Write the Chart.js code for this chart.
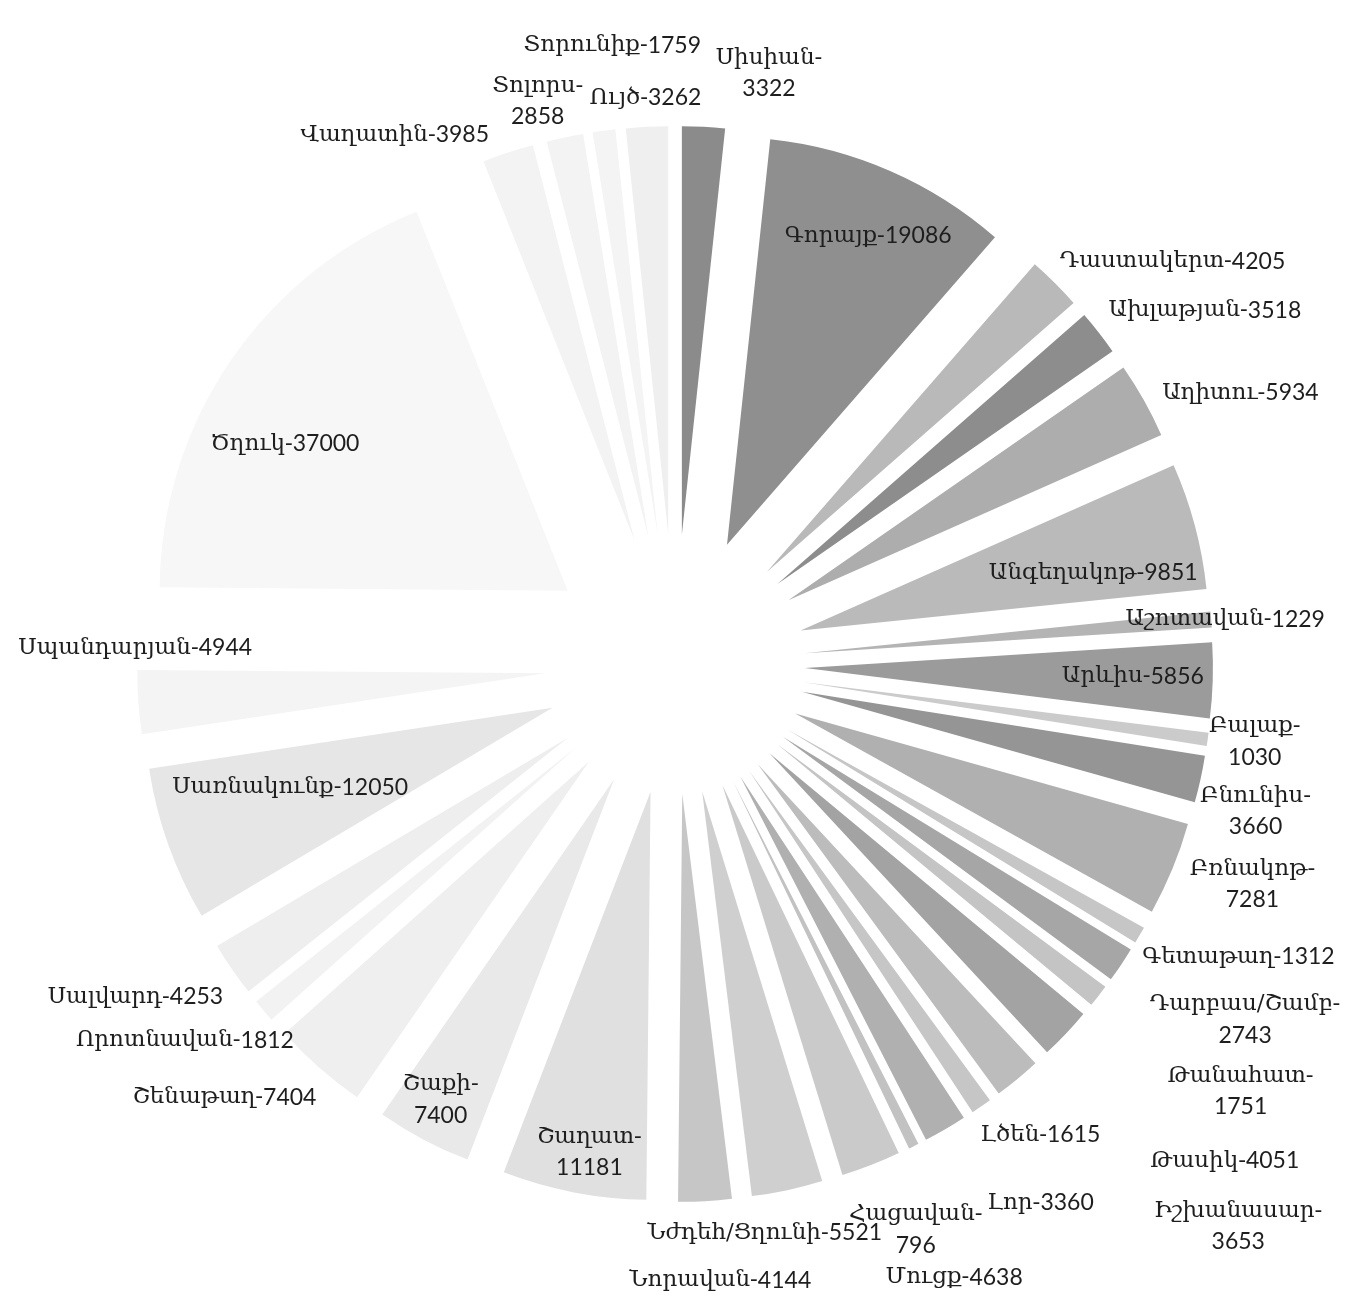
<!DOCTYPE html>
<html>
<head>
<meta charset="utf-8">
<script src="https://cdn.jsdelivr.net/npm/chart.js@4.4.1/dist/chart.umd.min.js"></script>
<style>
    html, body { margin: 0; padding: 0; background: #fff; }
    #wrap { width: 1347px; height: 1311px; }
</style>
</head>
<body>
<div id="wrap"><canvas id="pie"></canvas></div>
<script>
// ====================
// Data
// ====================
const villages = [
    "Սիսիան", "Գորայք", "Դաստակերտ", "Ախլաթյան", "Աղիտու", "Անգեղակոթ",
    "Աշոտավան", "Արևիս", "Բալաք", "Բնունիս", "Բռնակոթ", "Գետաթաղ",
    "Դարբաս/Շամբ", "Թանահատ", "Թասիկ", "Իշխանասար", "Լծեն", "Լոր",
    "Հացավան", "Մուցք", "Նժդեհ/Ցղունի", "Նորավան", "Շաղատ", "Շաքի",
    "Շենաթաղ", "Որոտնավան", "Սալվարդ", "Սառնակունք", "Սպանդարյան", "Ծղուկ",
    "Վաղատին", "Տոլորս", "Տորունիք", "Ույծ"
];
const values = [
    3322, 19086, 4205, 3518, 5934, 9851,
    1229, 5856, 1030, 3660, 7281, 1312,
    2743, 1751, 4051, 3653, 1615, 3360,
    796, 4638, 5521, 4144, 11181, 7400,
    7404, 1812, 4253, 12050, 4944, 37000,
    3985, 2858, 1759, 3262
];

// ====================
// Styles / layout
// ====================
const shades = [
    "#8b8b8b", "#8f8f8f", "#b9b9b9", "#8d8d8d", "#adadad", "#bababa",
    "#b4b4b4", "#9b9b9b", "#cbcbcb", "#959595", "#b0b0b0", "#c6c6c6",
    "#a6a6a6", "#c4c4c4", "#a3a3a3", "#bcbcbc", "#c6c6c6", "#b0b0b0",
    "#c2c2c2", "#cacaca", "#cfcfcf", "#c6c6c6", "#e0e0e0", "#e9e9e9",
    "#efefef", "#f2f2f2", "#eeeeee", "#e6e6e6", "#f4f4f4", "#f7f7f7",
    "#f3f3f3", "#f3f3f3", "#f4f4f4", "#efefef"
];
// label: distance from pie centre, angle nudge (deg) from slice middle, wrap after hyphen
const labelLayout = [
    [598, 6.0, 1], [470, 0.7, 0], [640, 6.1, 0], [637, 4.3, 0], [627, 3.75, 0], [428, 2.6, 0],
    [552, 0.1, 0], [458, -0.2, 0], [585, -0.4, 1], [599, 1.9, 1], [618, -1.5, 1], [635, -2.8, 0],
    [672, -2.0, 1], [709, -1.0, 1], [741, -1.3, 0], [796, -5.5, 1], [596, -3.1, 0], [651, -4.0, 0],
    [615, 3.3, 1], [674, -3.1, 0], [576, 3.1, 0], [618, -1.0, 0], [496, -0.9, 1], [495, 0.4, 1],
    [625, 4.7, 0], [618, 2.6, 0], [634, 2.9, 0], [404, 1.9, 0], [540, 5.8, 0], [448, -4.9, 0],
    [599, -9.8, 0], [579, -1.9, 1], [622, 1.8, 0], [567, 0, 0]
];

const PIE_R = 408;      // radius of each slice
const EXPLODE = 130;    // how far every slice is pulled out
const FONT_NAME = '23px "DejaVu Serif"';
const FONT_NUM = '23px Lato';

// ====================
// Exploded slices: draw each arc moved out along its middle angle
// ====================
const explode = {
    id: "explode",
    beforeDatasetDraw(chart, args) {
        const ctx = chart.ctx;
        args.meta.data.forEach(arc => {
            const mid = (arc.startAngle + arc.endAngle) / 2;
            ctx.save();
            ctx.translate(Math.cos(mid) * EXPLODE, Math.sin(mid) * EXPLODE);
            arc.draw(ctx, chart.chartArea);
            ctx.restore();
        });
        return false;
    }
};

// ====================
// Labels (name in serif, number in sans)
// ====================
function drawRun(ctx, parts, x, y) {
    let total = 0;
    parts.forEach(p => { ctx.font = p[1]; total += ctx.measureText(p[0]).width; });
    let cur = x - total / 2;
    parts.forEach(p => {
        ctx.font = p[1];
        ctx.fillText(p[0], cur, y);
        cur += ctx.measureText(p[0]).width;
    });
}

const sliceLabels = {
    id: "sliceLabels",
    afterDatasetsDraw(chart) {
        const ctx = chart.ctx;
        const arcs = chart.getDatasetMeta(0).data;
        ctx.save();
        ctx.fillStyle = "#1e1e1e";
        ctx.textAlign = "left";
        ctx.textBaseline = "middle";
        arcs.forEach((arc, i) => {
            const [dist, nudge, wrap] = labelLayout[i];
            const a = (arc.startAngle + arc.endAngle) / 2 + nudge * Math.PI / 180;
            const x = arc.x + Math.cos(a) * dist;
            const y = arc.y + Math.sin(a) * dist;
            const name = [villages[i] + "-", FONT_NAME];
            const num = [String(values[i]), FONT_NUM];
            const lines = wrap ? [[name], [num]] : [[name, num]];
            const lh = 31;
            lines.forEach((parts, k) => {
                drawRun(ctx, parts, x, y + (k - (lines.length - 1) / 2) * lh);
            });
        });
        ctx.restore();
    }
};

// ====================
// Chart
// ====================
new Chart(document.getElementById("pie"), {
    type: "pie",
    data: {
        labels: villages,
        datasets: [{
            data: values,
            backgroundColor: shades,
            borderWidth: 0,
            clip: false
        }]
    },
    options: {
        responsive: true,
        maintainAspectRatio: false,
        animation: false,
        events: [],
        radius: PIE_R,
        layout: { padding: { left: 3, right: 0, top: 17, bottom: 0 } },
        plugins: { legend: { display: false }, tooltip: { enabled: false } }
    },
    plugins: [explode, sliceLabels]
});
</script>
</body>
</html>
